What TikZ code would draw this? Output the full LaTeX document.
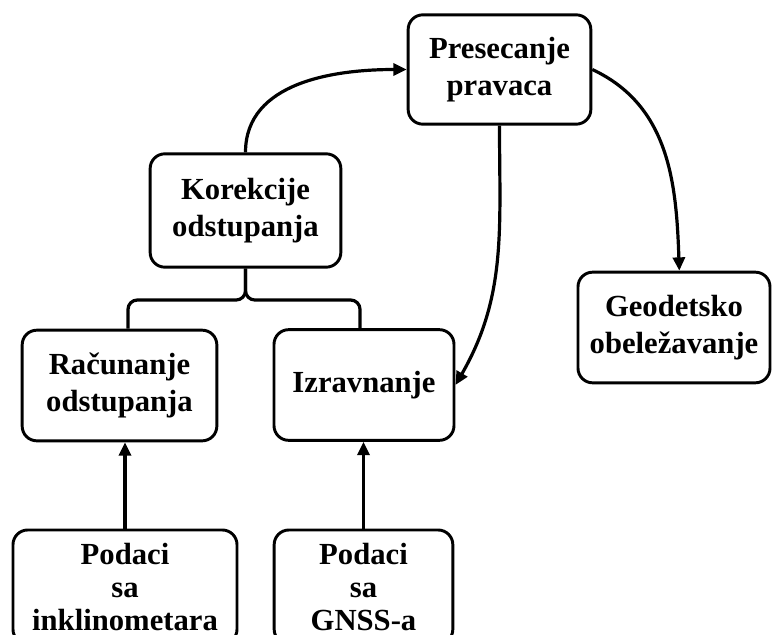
\documentclass[tikz,border=0pt]{standalone}
\usepackage{fontspec}
\setmainfont{Liberation Serif}
\usetikzlibrary{arrows.meta}

\begin{document}
\begin{tikzpicture}[
        x=0.75pt, y=-0.75pt,
        >={Triangle[length=10pt,width=9pt]},
        kutija/.style={draw, rounded corners=11pt, line width=2.2pt, align=center, inner sep=0pt,
                       font=\bfseries\fontsize{23}{28}\selectfont},
        podaci/.style={kutija, minimum height=85.5pt, font=\bfseries\fontsize{23}{24.5}\selectfont},
        strelica/.style={->, line width=2.4pt},
        veza/.style={line width=2.4pt, rounded corners=7pt}
    ]

        \useasboundingbox (0,0) rectangle (772,635);

        % ==================================================
        % KUTIJE
        % ==================================================

        \node[kutija, minimum width=137pt, minimum height=82pt] (pres) at (499.5,69.5) {Presecanje\\pravaca};
        \node[kutija, minimum width=143pt, minimum height=85pt] (kor) at (245.5,210.5) {Korekcije\\odstupanja};
        \node[kutija, minimum width=146pt, minimum height=83pt] (rac) at (119.5,385.5) {Računanje\\odstupanja};
        \node[kutija, minimum width=135pt, minimum height=83pt] (izr) at (364,385) {Izravnanje};
        \node[kutija, minimum width=144pt, minimum height=83pt] (geo) at (674,327.5) {Geodetsko\\obeležavanje};

        % Podaci
        \node[podaci, minimum width=168pt] (pin) at (125,587) {Podaci\\sa\\inklinometara};
        \node[podaci, minimum width=134pt] (gnss) at (363.5,587) {Podaci\\sa\\GNSS-a};

        % ==================================================
        % VEZE
        % ==================================================

        \coordinate (lijevo) at (128,300);
        \coordinate (desno) at (360,300);

        \draw[veza] (kor.south) |- (lijevo) -- (lijevo |- rac.north);
        \draw[veza] (kor.south) |- (desno) -- (desno |- izr.north);

        % Strelice
        \draw[strelica] (kor.north) to[out=90, in=180] (pres.west);
        \draw[strelica] (pres.south) to[out=-90, in=60] (izr.east);
        \draw[strelica] (pres.east) to[out=-25, in=92] ([xshift=4pt]geo.north);
        \draw[strelica] (pin.north) -- (pin.north |- rac.south);
        \draw[strelica] (gnss.north) -- (gnss.north |- izr.south);

\end{tikzpicture}
\end{document}
